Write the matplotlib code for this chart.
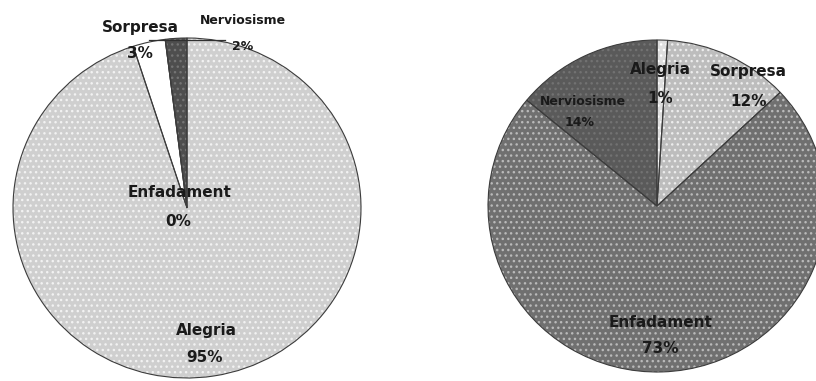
import matplotlib.pyplot as plt
import numpy as np

plt.rcParams['font.family'] = ['DejaVu Sans']
plt.rcParams['hatch.linewidth'] = 1.0

categories = ['Alegria', 'Sorpresa', 'Enfadament', 'Nerviosisme']
left_values = [95, 3, 0, 2]
right_values = [1, 12, 73, 14]

# fill colour / dot colour per slice for each pie
left_face = ['#cfcfcf', '#ffffff', '#6c6c6c', '#4e4e4e']
left_dots = ['#f2f2f2', '#ffffff', '#b0b0b0', '#747474']
right_face = ['#dedede', '#bdbdbd', '#707070', '#5a5a5a']
right_dots = ['#ffffff', '#ececec', '#bababa', '#727272']

# label anchors in pie units: (name xy, value xy)
left_pos = {
    'Alegria': ((0.11, -0.72), (0.10, -0.88)),
    'Sorpresa': ((-0.27, 1.06), (-0.27, 0.91)),
    'Enfadament': ((-0.04, 0.09), (-0.05, -0.08)),
    'Nerviosisme': ((0.32, 1.10), (0.32, 0.95)),
}
right_pos = {
    'Alegria': ((0.02, 0.82), (0.02, 0.65)),
    'Sorpresa': ((0.54, 0.81), (0.54, 0.63)),
    'Enfadament': ((0.02, -0.70), (0.02, -0.86)),
    'Nerviosisme': ((-0.44, 0.63), (-0.46, 0.50)),
}

W, H = 816, 381
fig = plt.figure(figsize=(W / 100, H / 100), dpi=100)


def add_pie(cx, cy, rx, ry, values, face, dots, pos):
    ax = fig.add_axes([(cx - rx) / W, 1 - (cy + ry) / H, 2 * rx / W, 2 * ry / H])
    wedges, _ = ax.pie(values, startangle=90, counterclock=False, radius=1,
                       wedgeprops=dict(linewidth=0))
    for w, fc, dc in zip(wedges, face, dots):
        w.set_facecolor(fc)
        w.set_edgecolor(dc)
        w.set_hatch('...')
    # outlines drawn separately so the hatch keeps its own colour
    ax.pie(values, startangle=90, counterclock=False, radius=1,
           wedgeprops=dict(fill=False, edgecolor='#3c3c3c', linewidth=0.8))
    ax.set_aspect('auto')
    ax.set_xlim(-1, 1)
    ax.set_ylim(-1, 1)
    ax.axis('off')
    for name, v in zip(categories, values):
        (nx, ny), (vx, vy) = pos[name]
        fs = 9 if name == 'Nerviosisme' else 11
        ax.text(nx, ny, name, ha='center', va='center', fontsize=fs,
                fontweight='bold', color='#1a1a1a', clip_on=False)
        ax.text(vx, vy, f'{v}%', ha='center', va='center', fontsize=fs,
                fontweight='bold', color='#1a1a1a', clip_on=False)
    return ax


axl = add_pie(187, 208, 174, 170, left_values, left_face, left_dots, left_pos)
axl.plot([-0.22, 0.22], [0.99, 0.99], color='#303030', linewidth=0.9, clip_on=False)

add_pie(657, 206, 169, 166, right_values, right_face, right_dots, right_pos)

fig.savefig('out.png', dpi=100)
